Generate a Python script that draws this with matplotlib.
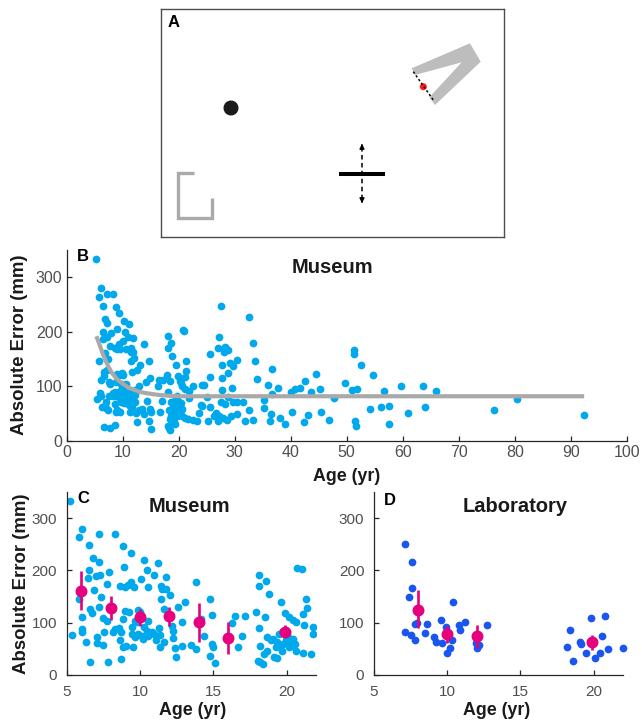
import matplotlib
matplotlib.use('Agg')
import matplotlib.pyplot as plt
from matplotlib.patches import Polygon, Circle
import numpy as np

plt.rcParams['font.family'] = ['Liberation Sans', 'DejaVu Sans']

# ---------------- data ----------------
museum_age = [
    5.2, 5.84, 6.05, 7.23, 8.32, 6.52, 8.82, 9.39, 6.82, 7.23, 10.25, 11.2, 10.48, 7.91, 6.5, 8.9,
    10.93, 11.77, 6.45, 7.02, 7.27, 8.64, 9.0, 9.18, 9.59, 9.41, 10.09, 10.55, 11.45, 11.5, 12.07,
    11.45, 11.61, 13.07, 13.84, 12.59, 11.77, 6.84, 7.73, 7.36, 5.82, 6.61, 7.18, 6.73, 6.05, 7.48,
    7.73, 8.98, 9.27, 6.02, 6.05, 5.34, 6.32, 7.05, 7.09, 7.45, 7.52, 8.18, 8.32, 8.55, 8.73, 8.64,
    8.82, 9.05, 8.86, 9.45, 9.48, 9.66, 9.89, 9.55, 9.68, 9.8, 9.84, 9.98, 10.11, 10.23, 10.27,
    10.55, 10.45, 10.8, 10.95, 10.55, 11.09, 11.34, 11.61, 11.36, 11.3, 12.23, 12.2, 12.25, 12.41,
    12.48, 12.84, 12.86, 13.45, 13.8, 14.14, 14.36, 14.75, 14.93, 14.75, 14.93, 14.98, 15.11, 16.3,
    16.5, 16.93, 17.14, 16.7, 6.59, 7.8, 8.68,
    18.09, 18.09, 18.59, 18.82, 17.91, 18.09, 18.52, 19.59, 19.89, 20.68, 21.02, 21.3, 21.36, 21.09,
    21.18, 20.18, 20.41, 20.64, 21.77, 21.77, 21.14, 21.68, 18.18, 18.07, 18.18, 18.41, 18.64, 18.91,
    19.09, 19.32, 19.27, 19.55, 19.77, 19.95, 20.07, 20.23, 20.36, 20.45, 20.57, 20.61, 20.18, 19.66,
    19.14, 19.36, 19.45, 19.66, 18.45, 18.64,
    27.55, 27.2, 27.08, 28.27, 28.86, 28.15, 25.59, 29.16, 27.67, 25.59, 27.67, 28.86, 24.1, 24.6,
    22.61, 25.0, 27.67, 27.55, 28.27, 29.46, 23.92, 25.59, 26.7, 26.3, 27.26, 27.9, 28.7, 29.28,
    22.61, 23.2, 25.17, 23.56, 27.08, 24.1, 28.86,
    32.56, 33.2, 33.57, 33.98, 30.47, 29.7, 29.64, 30.47, 31.54, 30.35, 31.84, 33.33, 32.6, 35.23,
    35.17, 36.0, 36.5, 36.3, 36.6, 37.8, 36.7, 38.0, 38.98, 40.05, 40.2, 40.77, 41.66, 42.4, 43.03,
    42.56, 43.63, 44.52, 45.17, 45.35, 46.78, 47.73, 49.76, 51.25, 51.36, 50.95, 51.9, 52.6, 51.48,
    51.6, 54.1, 54.76, 56.13, 56.7, 57.56, 57.5, 59.64, 60.9, 63.57, 63.92, 65.9, 76.3, 80.4, 92.3,
]
museum_err = [
    333, 263, 280, 270, 270, 248, 246, 234, 224, 217, 219, 215, 200, 197, 200, 206,
    191, 188, 186, 190, 191, 171, 169, 173, 169, 177, 183, 169, 170, 164, 153,
    146, 127, 140, 177, 131, 164, 162, 175, 150, 146, 126, 130, 119, 111, 109,
    104, 122, 121, 88, 82, 77, 63, 72, 61, 57, 82, 82, 88, 90, 82, 67,
    53, 56, 108, 92, 79, 72, 79, 53, 104, 101, 124, 121, 75, 69, 92,
    104, 85, 83, 79, 75, 66, 77, 63, 53, 90, 71, 93, 85, 52,
    35, 56, 101, 58, 50, 108, 74, 146, 115, 36, 59, 53, 22, 100,
    112, 74, 112, 53, 25, 24, 30,
    192, 170, 180, 155, 121, 89, 110, 139, 119, 204, 202, 146, 128, 117,
    95, 110, 106, 101, 92, 78, 43, 40, 56, 27, 24, 21, 72, 66,
    69, 63, 53, 55, 59, 66, 72, 62, 56, 69, 59, 46, 53, 46,
    34, 32, 79, 82, 40, 46,
    247, 191, 170, 173, 167, 164, 159, 143, 140, 117, 116, 124, 103, 102,
    100, 81, 94, 72, 68, 97, 66, 63, 52, 45, 46, 42, 39, 45,
    39, 36, 36, 52, 36, 65, 81,
    227, 180, 147, 113, 149, 138, 72, 71, 71, 50, 36, 39, 57, 75,
    60, 103, 49, 37, 132, 97, 86, 42, 31, 89, 53, 96, 97, 35, 47,
    110, 90, 123, 95, 54, 39, 78, 107, 167, 159, 93, 95, 139, 37,
    28, 59, 121, 62, 92, 64, 31, 101, 51, 100, 62, 91, 57, 77, 48,
]

fit_age = [5.3, 6.0, 6.5, 7.0, 7.5, 8.0, 9.0, 10.0, 11.0, 12.0, 13.0, 14.0, 16.0, 18.0, 20.0, 30.0, 92.4]
fit_err = [192, 173, 158, 146, 135, 126, 113, 105, 98, 94, 90, 88, 85, 83, 82, 82, 82]

c_age = [6, 8, 10, 12, 14, 16, 19.9]
c_mean = [160, 128, 111, 112, 101, 70, 83]
c_lo = [124, 106, 94, 94, 64, 40, 72]
c_hi = [198, 151, 127, 130, 138, 101, 96]

lab_age = [7.12, 7.6, 7.6, 7.4, 7.82, 7.95, 7.12, 7.5, 7.8, 8.6, 8.5, 9.12, 9.2, 9.6, 9.65, 9.9,
           10.3, 10.2, 10.0, 10.4, 10.8, 10.9, 11.2, 12.7, 11.97, 12.0, 12.2,
           18.2, 18.4, 18.6, 19.05, 19.1, 19.5, 19.8, 19.9, 20.1, 20.4, 20.6, 20.8, 21.0, 22.0]
lab_err = [251, 217, 166, 150, 98, 100, 83, 76, 66, 98, 80, 72, 63, 106, 61, 92,
           67, 51, 42, 139, 96, 87, 101, 96, 62, 52, 57,
           53, 86, 27, 64, 59, 42, 109, 61, 32, 43, 75, 112, 50, 51]

d_age = [8, 10, 12, 19.9]
d_mean = [125, 79, 75, 63]
d_lo = [89, 61, 52, 48]
d_hi = [163, 94, 96, 76]

age_ticks_b = list(range(0, 101, 10))
age_ticks_cd = [5, 10, 15, 20]
err_ticks = [0, 100, 200, 300]

# ---------------- style ----------------
W, H = 642, 722
fig = plt.figure(figsize=(W / 100, H / 100), dpi=100)

MUSEUM = '#00a8ec'
LAB = '#1a55f0'
PINK = '#e6007e'
GRAY = '#a9a9a9'
TICKC = '#4f4f4f'
SPINE = '#262626'
DARK = '#1a1a1a'


def rect(l, t, r, b):
    return [l / W, 1 - b / H, (r - l) / W, (b - t) / H]


def ftext(x, y, s, **kw):
    fig.text(x / W, 1 - y / H, s, **kw)


def style_axes(ax, pad, size):
    for s in ['top', 'right']:
        ax.spines[s].set_visible(False)
    for s in ['left', 'bottom']:
        ax.spines[s].set_color(SPINE)
        ax.spines[s].set_linewidth(0.9)
    ax.tick_params(direction='in', length=3.6, width=0.9, color=SPINE,
                   labelsize=size, labelcolor=TICKC, pad=pad)


# ---------------- panel A ----------------
axA = fig.add_axes(rect(161, 9, 504, 237))
axA.set_xlim(161, 504)
axA.set_ylim(237, 9)
axA.set_xticks([])
axA.set_yticks([])
for s in axA.spines.values():
    s.set_color('#4d4d4d')
    s.set_linewidth(1.0)
axA.add_patch(Circle((231, 108), 6.8, color=DARK))
axA.plot([194, 178, 178, 212, 212], [173, 173, 218, 218, 198], color='#aaaaaa',
         lw=2.4, solid_joinstyle='miter', solid_capstyle='butt')
axA.plot([339, 385], [174, 174], color='black', lw=2.9, solid_capstyle='butt')
axA.plot([362, 362], [147, 200], color='black', lw=1.1, ls=(0, (3, 2.2)))
axA.annotate('', xy=(362, 141), xytext=(362, 149),
             arrowprops=dict(arrowstyle='-|>', color='black', lw=1.0, mutation_scale=7))
axA.annotate('', xy=(362, 206), xytext=(362, 198),
             arrowprops=dict(arrowstyle='-|>', color='black', lw=1.0, mutation_scale=7))
axA.add_patch(Polygon([(411.7, 68.3), (470, 43.3), (480.7, 61.7), (435, 105),
                       (429.3, 97.3), (461.7, 62.3), (415, 75)],
                      closed=True, color='#bdbdbd', lw=0))
axA.plot([413.3, 433.3], [71.7, 100], color='black', lw=1.1, ls=(0, (1.5, 1.5)))
axA.add_patch(Circle((423.3, 86.7), 2.8, color='#ff1a1a'))
ftext(174, 27, 'A', fontsize=12, fontweight='bold', ha='center', va='baseline')

# ---------------- panel B ----------------
axB = fig.add_axes(rect(66.7, 250, 626.7, 441))
axB.scatter(museum_age, museum_err, s=31, color=MUSEUM, lw=0, clip_on=False, zorder=2)
axB.plot(fit_age, fit_err, color=GRAY, lw=3.0, zorder=3, solid_capstyle='butt')
axB.set_xlim(0, 100)
axB.set_ylim(0, 350)
axB.set_xticks(age_ticks_b)
axB.set_yticks(err_ticks)
style_axes(axB, 3, 11.5)
ftext(332, 273, 'Museum', fontsize=14.5, fontweight='bold', ha='center', va='baseline', color=DARK)
ftext(82.5, 261, 'B', fontsize=12, fontweight='bold', ha='center', va='baseline')
ftext(20, 345, 'Absolute Error (mm)', fontsize=13.4, fontweight='bold', rotation=90,
      ha='center', va='center', color=DARK)
ftext(347, 481, 'Age (yr)', fontsize=12.8, fontweight='bold', ha='center', va='baseline', color=DARK)

# ---------------- panel C ----------------
axC = fig.add_axes(rect(66.7, 492, 316, 675))
axC.scatter(museum_age, museum_err, s=31, color=MUSEUM, lw=0, clip_on=True, zorder=2)
axC.errorbar(c_age, c_mean,
             yerr=[np.array(c_mean) - np.array(c_lo), np.array(c_hi) - np.array(c_mean)],
             fmt='o', ms=7.6, color=PINK, elinewidth=1.9, capsize=0, zorder=4)
axC.set_xlim(5, 22)
axC.set_ylim(0, 350)
axC.set_xticks(age_ticks_cd)
axC.set_yticks(err_ticks)
style_axes(axC, 7, 11)
ftext(189, 512, 'Museum', fontsize=14.5, fontweight='bold', ha='center', va='baseline', color=DARK)
ftext(83, 503, 'C', fontsize=12, fontweight='bold', ha='center', va='baseline')
ftext(22, 584, 'Absolute Error (mm)', fontsize=13.4, fontweight='bold', rotation=90,
      ha='center', va='center', color=DARK)
ftext(193, 715, 'Age (yr)', fontsize=12.8, fontweight='bold', ha='center', va='baseline', color=DARK)

# ---------------- panel D ----------------
axD = fig.add_axes(rect(374, 492, 623, 675))
axD.scatter(lab_age, lab_err, s=31, color=LAB, lw=0, clip_on=False, zorder=2)
axD.errorbar(d_age, d_mean,
             yerr=[np.array(d_mean) - np.array(d_lo), np.array(d_hi) - np.array(d_mean)],
             fmt='o', ms=7.6, color=PINK, elinewidth=1.9, capsize=0, zorder=4)
axD.set_xlim(5, 22)
axD.set_ylim(0, 350)
axD.set_xticks(age_ticks_cd)
axD.set_yticks(err_ticks)
style_axes(axD, 7, 11)
ftext(515, 512, 'Laboratory', fontsize=14.5, fontweight='bold', ha='center', va='baseline', color=DARK)
ftext(390, 505, 'D', fontsize=12, fontweight='bold', ha='center', va='baseline')
ftext(497, 715, 'Age (yr)', fontsize=12.8, fontweight='bold', ha='center', va='baseline', color=DARK)

fig.savefig('out.png', dpi=100)
